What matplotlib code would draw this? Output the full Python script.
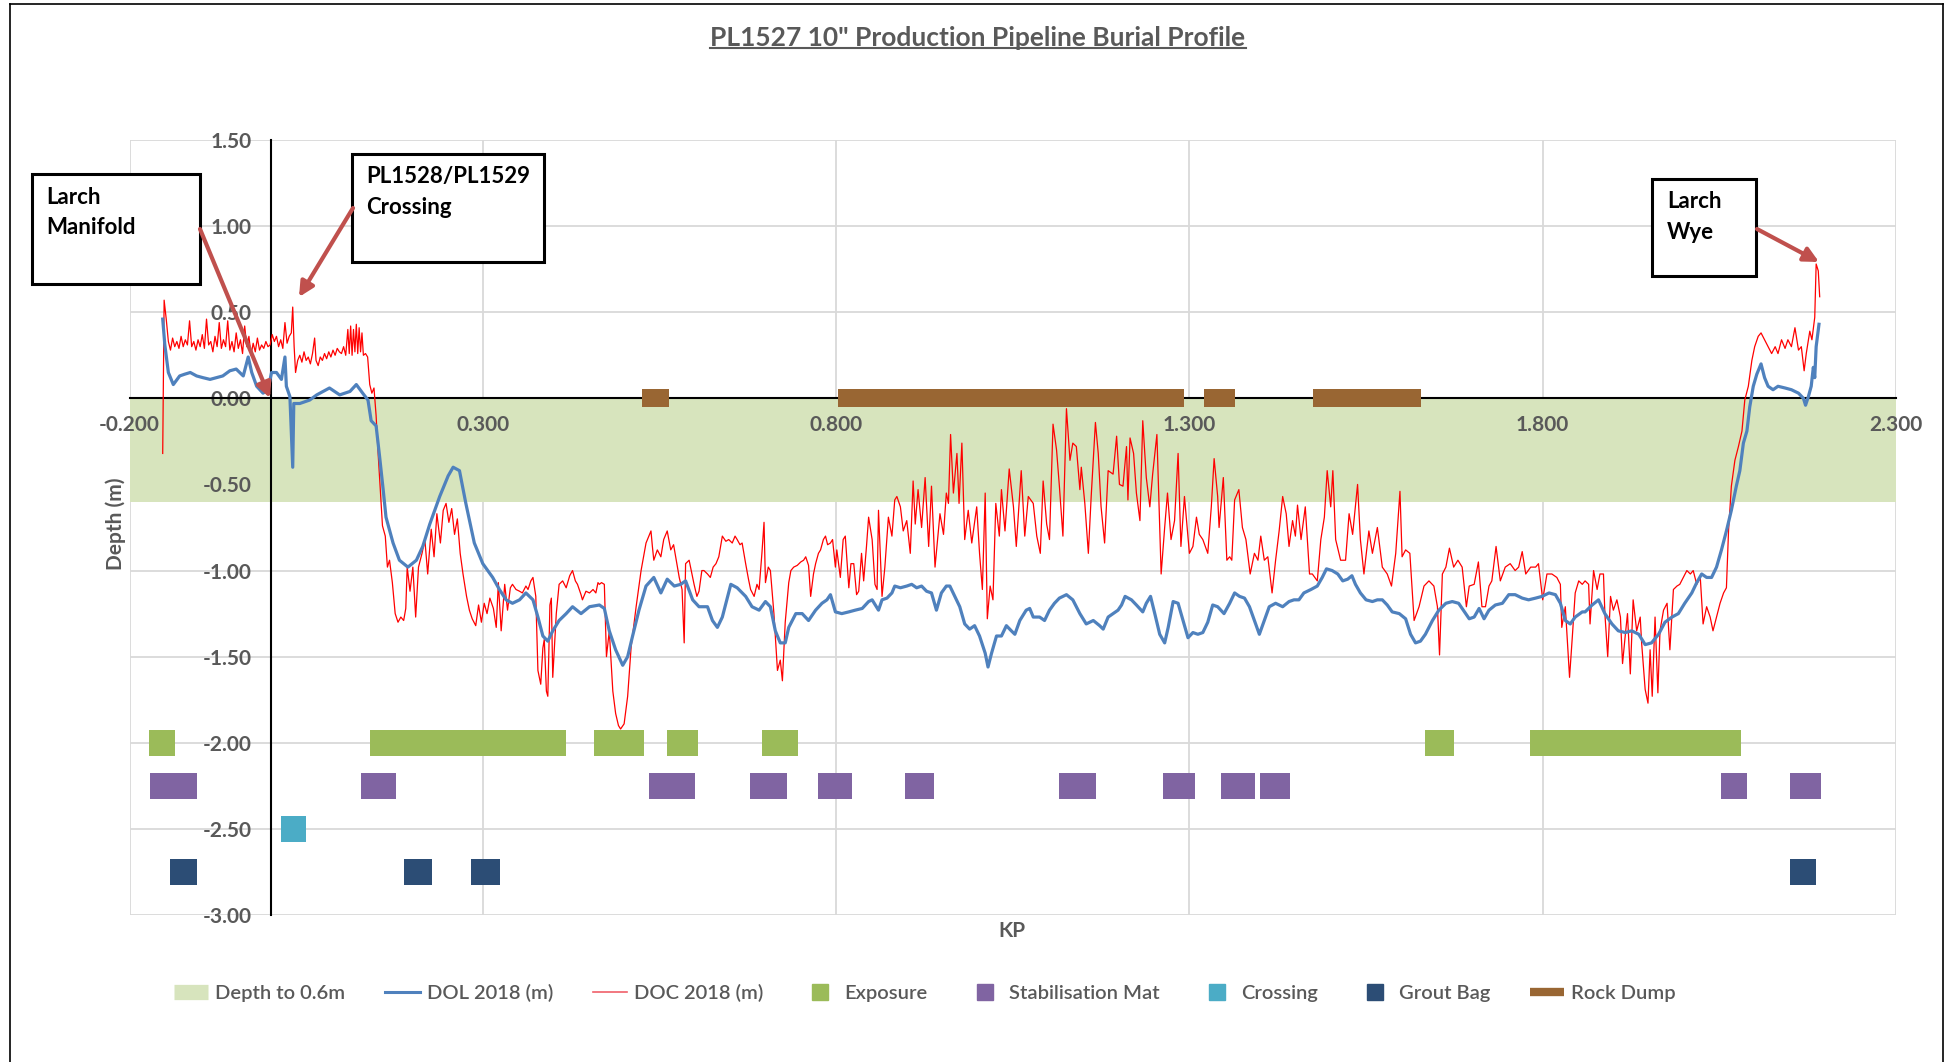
import matplotlib
matplotlib.use("Agg")
import matplotlib.pyplot as plt
from matplotlib.lines import Line2D
from matplotlib.patches import Rectangle, FancyArrowPatch
from matplotlib.ticker import FormatStrFormatter

plt.rcParams['font.family'] = ['Lato', 'DejaVu Sans']

TITLE = 'PL1527 10" Production Pipeline Burial Profile'
X_LABEL = "KP"
Y_LABEL = "Depth (m)"
X_TICKS = [-0.2, 0.3, 0.8, 1.3, 1.8, 2.3]
Y_TICKS = [1.5, 1.0, 0.5, 0.0, -0.5, -1.0, -1.5, -2.0, -2.5, -3.0]

# DOC 2018 (m) - red
doc_kp = [-0.153, -0.151, -0.148, -0.145, -0.142, -0.139, -0.136, -0.133, -0.130, -0.127,
          -0.124, -0.121, -0.118, -0.115, -0.112, -0.109, -0.106, -0.103, -0.100, -0.097,
          -0.094, -0.091, -0.088, -0.085, -0.082, -0.079, -0.076, -0.073, -0.070, -0.067,
          -0.064, -0.061, -0.058, -0.055, -0.052, -0.049, -0.046, -0.043, -0.040, -0.037,
          -0.034, -0.031, -0.028, -0.025, -0.022, -0.019, -0.016, -0.013, -0.010, -0.007,
          -0.004, -0.001, 0.002, 0.005, 0.008, 0.011, 0.014, 0.017, 0.020, 0.023,
          0.026, 0.029, 0.031, 0.033, 0.035, 0.038, 0.041, 0.044, 0.047, 0.050,
          0.053, 0.056, 0.059, 0.062, 0.064, 0.067, 0.070, 0.073, 0.076, 0.079,
          0.082, 0.085, 0.088, 0.091, 0.094, 0.097, 0.100, 0.103, 0.106, 0.109,
          0.111, 0.113, 0.115, 0.117, 0.119, 0.121, 0.123, 0.125, 0.127, 0.129,
          0.131, 0.134, 0.137, 0.140, 0.143, 0.146, 0.149, 0.152, 0.155, 0.158,
          0.162, 0.165, 0.168, 0.172, 0.176, 0.180, 0.184, 0.188, 0.191, 0.193,
          0.197, 0.201, 0.205, 0.209, 0.214, 0.218, 0.222, 0.227, 0.231, 0.235,
          0.240, 0.244, 0.248, 0.252, 0.256, 0.260, 0.264, 0.268, 0.272, 0.277,
          0.281, 0.285, 0.290, 0.294, 0.298, 0.302, 0.306, 0.310, 0.315, 0.319,
          0.322, 0.326, 0.331, 0.335, 0.339, 0.342, 0.347, 0.352, 0.356, 0.361,
          0.364, 0.368, 0.371, 0.375, 0.378, 0.382, 0.385, 0.387, 0.390, 0.392,
          0.395, 0.397, 0.399, 0.402, 0.404, 0.408, 0.413, 0.418, 0.423, 0.427,
          0.431, 0.434, 0.439, 0.441, 0.446, 0.451, 0.456, 0.460, 0.463, 0.465,
          0.468, 0.472, 0.475, 0.479, 0.484, 0.488, 0.492, 0.495, 0.500, 0.505,
          0.510, 0.517, 0.524, 0.531, 0.535, 0.538, 0.540, 0.542, 0.547, 0.552,
          0.556, 0.561, 0.566, 0.570, 0.573, 0.578, 0.582, 0.585, 0.587, 0.592,
          0.596, 0.599, 0.603, 0.606, 0.610, 0.613, 0.618, 0.622, 0.626, 0.630,
          0.634, 0.639, 0.644, 0.648, 0.653, 0.657, 0.660, 0.664, 0.667, 0.672,
          0.676, 0.679, 0.684, 0.688, 0.691, 0.695, 0.698, 0.700, 0.704, 0.707,
          0.712, 0.717, 0.721, 0.724, 0.728, 0.733, 0.736, 0.740, 0.745, 0.750,
          0.754, 0.757, 0.761, 0.764, 0.768, 0.771, 0.775, 0.778, 0.782, 0.785,
          0.788, 0.792, 0.795, 0.799, 0.801, 0.806, 0.810, 0.813, 0.818, 0.821,
          0.825, 0.829, 0.832, 0.836, 0.839, 0.843, 0.846, 0.851, 0.855, 0.858,
          0.860, 0.865, 0.869, 0.874, 0.879, 0.883, 0.886, 0.891, 0.895, 0.900,
          0.905, 0.909, 0.912, 0.916, 0.921, 0.926, 0.931, 0.935, 0.940, 0.947,
          0.952, 0.956, 0.959, 0.962, 0.966, 0.971, 0.974, 0.978, 0.982, 0.987,
          0.992, 0.999, 1.003, 1.007, 1.011, 1.014, 1.018, 1.022, 1.026, 1.031,
          1.034, 1.039, 1.045, 1.051, 1.055, 1.062, 1.067, 1.072, 1.079, 1.084,
          1.089, 1.093, 1.098, 1.102, 1.107, 1.112, 1.116, 1.121, 1.126, 1.131,
          1.135, 1.140, 1.145, 1.147, 1.152, 1.157, 1.161, 1.167, 1.171, 1.175,
          1.180, 1.185, 1.192, 1.197, 1.201, 1.206, 1.211, 1.213, 1.216, 1.221,
          1.225, 1.230, 1.234, 1.239, 1.244, 1.248, 1.254, 1.260, 1.265, 1.269,
          1.274, 1.279, 1.284, 1.288, 1.293, 1.300, 1.305, 1.310, 1.314, 1.319,
          1.326, 1.331, 1.335, 1.340, 1.342, 1.348, 1.353, 1.357, 1.360, 1.364,
          1.370, 1.375, 1.380, 1.386, 1.392, 1.397, 1.401, 1.406, 1.411, 1.417,
          1.422, 1.427, 1.432, 1.437, 1.441, 1.446, 1.450, 1.453, 1.458, 1.464,
          1.470, 1.474, 1.481, 1.486, 1.491, 1.495, 1.500, 1.503, 1.507, 1.514,
          1.521, 1.526, 1.531, 1.538, 1.542, 1.547, 1.554, 1.559, 1.566, 1.573,
          1.580, 1.586, 1.592, 1.598, 1.601, 1.606, 1.612, 1.618, 1.625, 1.632,
          1.639, 1.646, 1.651, 1.654, 1.658, 1.663, 1.668, 1.674, 1.680, 1.686,
          1.692, 1.696, 1.703, 1.709, 1.714, 1.719, 1.724, 1.728, 1.734, 1.740,
          1.747, 1.754, 1.761, 1.766, 1.771, 1.776, 1.783, 1.790, 1.794, 1.800,
          1.806, 1.813, 1.820, 1.825, 1.827, 1.832, 1.838, 1.842, 1.846, 1.851,
          1.856, 1.860, 1.865, 1.867, 1.872, 1.877, 1.881, 1.886, 1.888, 1.892,
          1.896, 1.900, 1.905, 1.910, 1.913, 1.917, 1.920, 1.924, 1.928, 1.933,
          1.938, 1.940, 1.945, 1.949, 1.952, 1.955, 1.959, 1.963, 1.966, 1.971,
          1.976, 1.980, 1.985, 1.990, 1.994, 1.999, 2.004, 2.009, 2.013, 2.018,
          2.023, 2.027, 2.032, 2.037, 2.041, 2.046, 2.051, 2.056, 2.060, 2.063,
          2.067, 2.072, 2.077, 2.082, 2.086, 2.091, 2.096, 2.100, 2.105, 2.109,
          2.114, 2.119, 2.124, 2.129, 2.133, 2.138, 2.143, 2.147, 2.152, 2.157,
          2.162, 2.166, 2.170, 2.173, 2.178, 2.181, 2.185, 2.187, 2.190, 2.192]
doc_depth = [-0.32, 0.57, 0.46, 0.33, 0.28, 0.35, 0.30, 0.33, 0.29, 0.36,
             0.30, 0.34, 0.31, 0.45, 0.30, 0.33, 0.28, 0.34, 0.30, 0.37,
             0.29, 0.46, 0.31, 0.33, 0.27, 0.36, 0.30, 0.44, 0.29, 0.34,
             0.30, 0.45, 0.28, 0.33, 0.27, 0.38, 0.29, 0.34, 0.26, 0.42,
             0.30, 0.36, 0.25, 0.32, 0.27, 0.35, 0.28, 0.31, 0.29, 0.33,
             0.30, 0.31, 0.37, 0.33, 0.36, 0.30, 0.34, 0.29, 0.44, 0.32,
             0.36, 0.38, 0.53, 0.30, 0.15, 0.22, 0.25, 0.21, 0.27, 0.22,
             0.24, 0.20, 0.26, 0.35, 0.22, 0.19, 0.24, 0.22, 0.26, 0.23,
             0.27, 0.24, 0.28, 0.25, 0.29, 0.27, 0.26, 0.30, 0.25, 0.40,
             0.26, 0.42, 0.25, 0.40, 0.27, 0.43, 0.26, 0.41, 0.27, 0.38,
             0.25, 0.26, 0.24, 0.08, 0.03, 0.06, -0.10, -0.33, -0.53, -0.74,
             -0.80, -0.98, -0.94, -1.07, -1.25, -1.30, -1.27, -1.29, -1.22, -0.98,
             -1.12, -0.98, -1.27, -0.98, -0.90, -0.82, -1.02, -0.76, -0.92, -0.67,
             -0.84, -0.65, -0.61, -0.72, -0.64, -0.79, -0.70, -0.90, -1.02, -1.15,
             -1.23, -1.28, -1.32, -1.20, -1.30, -1.19, -1.25, -1.16, -1.22, -1.33,
             -1.07, -1.35, -1.08, -1.23, -1.10, -1.08, -1.11, -1.12, -1.13, -1.09,
             -1.11, -1.06, -1.04, -1.15, -1.58, -1.66, -1.45, -1.40, -1.70, -1.73,
             -1.20, -1.16, -1.62, -1.40, -1.25, -1.08, -1.06, -1.10, -1.03, -1.00,
             -1.06, -1.08, -1.14, -1.17, -1.12, -1.13, -1.11, -1.13, -1.07, -1.08,
             -1.07, -1.08, -1.50, -1.35, -1.70, -1.83, -1.90, -1.92, -1.89, -1.73,
             -1.44, -1.21, -1.00, -0.84, -0.80, -0.77, -0.86, -0.94, -0.88, -0.92,
             -0.82, -0.77, -0.88, -0.85, -0.92, -1.04, -1.11, -1.42, -0.96, -0.94,
             -1.02, -1.08, -1.15, -1.12, -1.00, -1.00, -1.02, -1.04, -0.98, -0.96,
             -0.92, -0.80, -0.83, -0.82, -0.84, -0.80, -0.82, -0.85, -0.84, -0.96,
             -1.05, -1.11, -1.15, -1.08, -1.11, -0.90, -0.72, -1.07, -0.98, -1.00,
             -1.25, -1.58, -1.52, -1.64, -1.30, -1.07, -1.00, -0.98, -0.97, -0.95,
             -0.94, -0.92, -0.97, -1.15, -1.02, -0.96, -0.90, -0.88, -0.82, -0.80,
             -0.85, -0.84, -0.82, -0.98, -0.88, -1.04, -0.82, -0.80, -1.10, -0.96,
             -0.96, -1.14, -1.12, -0.90, -1.06, -0.86, -0.69, -0.82, -1.08, -1.11,
             -0.65, -1.15, -0.98, -0.69, -0.80, -0.59, -0.57, -0.63, -0.77, -0.71,
             -0.90, -0.48, -0.73, -0.53, -0.75, -0.46, -0.86, -0.51, -0.98, -0.67,
             -0.79, -0.55, -0.61, -0.21, -0.55, -0.32, -0.61, -0.26, -0.82, -0.65,
             -0.84, -0.63, -0.90, -1.11, -0.55, -1.28, -1.09, -1.17, -0.61, -0.80,
             -0.53, -0.77, -0.41, -0.63, -0.86, -0.42, -0.80, -0.57, -0.61, -0.80,
             -0.90, -0.48, -0.73, -0.82, -0.15, -0.30, -0.51, -0.80, -0.06, -0.36,
             -0.26, -0.28, -0.53, -0.40, -0.61, -0.90, -0.57, -0.14, -0.32, -0.63,
             -0.84, -0.42, -0.44, -0.22, -0.50, -0.51, -0.28, -0.59, -0.23, -0.32,
             -0.55, -0.71, -0.13, -0.46, -0.63, -0.44, -0.21, -1.02, -0.75, -0.55,
             -0.82, -0.71, -0.32, -0.86, -0.57, -0.90, -0.86, -0.69, -0.79, -0.82,
             -0.90, -0.63, -0.35, -0.57, -0.75, -0.46, -0.94, -0.92, -0.94, -0.59,
             -0.53, -0.75, -0.82, -1.02, -0.90, -0.94, -0.80, -0.94, -0.92, -1.13,
             -0.94, -0.77, -0.57, -0.67, -0.86, -0.71, -0.80, -0.62, -0.82, -0.63,
             -1.02, -1.02, -1.06, -0.82, -0.69, -0.42, -0.63, -0.42, -0.82, -0.94,
             -0.94, -0.67, -0.79, -0.50, -0.82, -1.02, -0.77, -0.90, -0.75, -0.98,
             -1.02, -1.09, -0.90, -0.54, -0.92, -0.88, -0.90, -1.29, -1.21, -1.09,
             -1.06, -1.09, -1.21, -1.49, -1.02, -0.98, -0.87, -0.98, -0.94, -0.98,
             -1.21, -1.09, -1.08, -0.95, -1.21, -1.21, -1.09, -1.06, -0.86, -1.06,
             -0.98, -0.96, -1.00, -0.98, -0.89, -1.02, -0.98, -0.98, -0.96, -1.17,
             -1.02, -1.02, -1.04, -1.08, -1.33, -1.21, -1.62, -1.38, -1.13, -1.06,
             -1.08, -1.06, -1.08, -1.31, -1.00, -1.11, -1.02, -1.02, -1.25, -1.50,
             -1.15, -1.23, -1.17, -1.27, -1.54, -1.37, -1.25, -1.60, -1.17, -1.35,
             -1.27, -1.42, -1.69, -1.77, -1.46, -1.73, -1.27, -1.71, -1.35, -1.23,
             -1.19, -1.46, -1.11, -1.09, -1.08, -1.04, -1.00, -1.02, -1.00, -1.08,
             -1.04, -1.31, -1.21, -1.27, -1.35, -1.27, -1.19, -1.13, -1.10, -0.77,
             -0.51, -0.36, -0.28, -0.19, -0.01, 0.07, 0.22, 0.30, 0.36, 0.38,
             0.34, 0.30, 0.26, 0.30, 0.26, 0.34, 0.29, 0.34, 0.30, 0.41,
             0.28, 0.30, 0.16, 0.26, 0.39, 0.34, 0.47, 0.78, 0.74, 0.59]

# DOL 2018 (m) - blue
dol_kp = [-0.153, -0.150, -0.145, -0.138, -0.129, -0.122, -0.114, -0.105, -0.096, -0.086,
          -0.077, -0.068, -0.058, -0.049, -0.039, -0.032, -0.027, -0.020, -0.011, -0.004,
          0.001, 0.008, 0.015, 0.020, 0.022, 0.027, 0.031, 0.0325, 0.041, 0.055,
          0.065, 0.083, 0.0975, 0.112, 0.121, 0.130, 0.1375, 0.142, 0.149, 0.154,
          0.159, 0.163, 0.173, 0.182, 0.194, 0.206, 0.215, 0.225, 0.239, 0.251,
          0.258, 0.267, 0.276, 0.288, 0.300, 0.314, 0.3235, 0.333, 0.342, 0.352,
          0.361, 0.371, 0.378, 0.385, 0.392, 0.399, 0.408, 0.418, 0.427, 0.439,
          0.451, 0.465, 0.472, 0.479, 0.488, 0.498, 0.505, 0.512, 0.521, 0.531,
          0.542, 0.552, 0.561, 0.571, 0.580, 0.587, 0.597, 0.606, 0.618, 0.625,
          0.632, 0.639, 0.651, 0.660, 0.672, 0.681, 0.691, 0.700, 0.707, 0.714,
          0.721, 0.728, 0.733, 0.743, 0.752, 0.761, 0.771, 0.780, 0.787, 0.792,
          0.799, 0.808, 0.818, 0.827, 0.837, 0.846, 0.851, 0.860, 0.865, 0.872,
          0.879, 0.883, 0.891, 0.900, 0.907, 0.914, 0.921, 0.928, 0.935, 0.942,
          0.949, 0.956, 0.961, 0.968, 0.975, 0.982, 0.989, 0.996, 1.003, 1.011,
          1.015, 1.020, 1.027, 1.034, 1.041, 1.048, 1.053, 1.060, 1.069, 1.074,
          1.079, 1.088, 1.095, 1.102, 1.109, 1.116, 1.126, 1.135, 1.145, 1.154,
          1.164, 1.173, 1.178, 1.185, 1.192, 1.199, 1.204, 1.209, 1.218, 1.225,
          1.234, 1.239, 1.245, 1.251, 1.258, 1.265, 1.270, 1.277, 1.284, 1.291,
          1.298, 1.305, 1.312, 1.319, 1.326, 1.333, 1.340, 1.349, 1.357, 1.364,
          1.371, 1.378, 1.385, 1.392, 1.399, 1.406, 1.413, 1.422, 1.432, 1.441,
          1.448, 1.455, 1.462, 1.472, 1.481, 1.488, 1.494, 1.502, 1.510, 1.517,
          1.524, 1.530, 1.535, 1.542, 1.550, 1.559, 1.566, 1.573, 1.580, 1.587,
          1.597, 1.606, 1.613, 1.620, 1.627, 1.634, 1.644, 1.653, 1.663, 1.672,
          1.681, 1.691, 1.696, 1.703, 1.710, 1.717, 1.724, 1.733, 1.743, 1.752,
          1.761, 1.771, 1.780, 1.790, 1.799, 1.809, 1.818, 1.825, 1.832, 1.839,
          1.846, 1.856, 1.860, 1.870, 1.879, 1.888, 1.898, 1.907, 1.917, 1.926,
          1.936, 1.945, 1.954, 1.964, 1.973, 1.983, 1.992, 2.001, 2.011, 2.018,
          2.025, 2.032, 2.039, 2.046, 2.053, 2.060, 2.067, 2.074, 2.079, 2.084,
          2.089, 2.093, 2.098, 2.103, 2.109, 2.114, 2.119, 2.126, 2.133, 2.143,
          2.152, 2.162, 2.169, 2.172, 2.176, 2.180, 2.183, 2.185, 2.187, 2.191]
dol_depth = [0.46, 0.31, 0.15, 0.08, 0.13, 0.14, 0.15, 0.13, 0.12, 0.11,
             0.12, 0.13, 0.16, 0.17, 0.13, 0.24, 0.15, 0.07, 0.03, 0.05,
             0.15, 0.15, 0.11, 0.24, 0.07, 0.01, -0.40, -0.03, -0.03, -0.01,
             0.02, 0.06, 0.02, 0.04, 0.08, 0.03, -0.01, -0.13, -0.16, -0.34,
             -0.53, -0.69, -0.84, -0.94, -0.98, -0.94, -0.86, -0.73, -0.57, -0.45,
             -0.40, -0.42, -0.61, -0.84, -0.96, -1.04, -1.11, -1.17, -1.19, -1.17,
             -1.13, -1.17, -1.27, -1.38, -1.41, -1.35, -1.29, -1.25, -1.21, -1.25,
             -1.21, -1.20, -1.22, -1.35, -1.46, -1.55, -1.50, -1.38, -1.23, -1.09,
             -1.04, -1.13, -1.05, -1.09, -1.08, -1.06, -1.17, -1.21, -1.21, -1.29,
             -1.33, -1.27, -1.08, -1.10, -1.15, -1.21, -1.23, -1.18, -1.21, -1.35,
             -1.42, -1.42, -1.33, -1.25, -1.25, -1.29, -1.23, -1.19, -1.17, -1.14,
             -1.24, -1.25, -1.24, -1.23, -1.22, -1.18, -1.17, -1.23, -1.17, -1.16,
             -1.13, -1.09, -1.10, -1.09, -1.08, -1.10, -1.09, -1.12, -1.13, -1.23,
             -1.13, -1.09, -1.09, -1.15, -1.21, -1.31, -1.34, -1.32, -1.38, -1.48,
             -1.56, -1.48, -1.38, -1.38, -1.32, -1.35, -1.37, -1.29, -1.23, -1.22,
             -1.27, -1.27, -1.29, -1.23, -1.19, -1.16, -1.14, -1.17, -1.25, -1.31,
             -1.29, -1.32, -1.34, -1.27, -1.25, -1.23, -1.20, -1.15, -1.17, -1.20,
             -1.24, -1.19, -1.15, -1.25, -1.37, -1.42, -1.33, -1.18, -1.19, -1.29,
             -1.39, -1.36, -1.37, -1.36, -1.30, -1.20, -1.21, -1.25, -1.19, -1.13,
             -1.15, -1.16, -1.21, -1.29, -1.37, -1.29, -1.21, -1.19, -1.21, -1.18,
             -1.17, -1.17, -1.13, -1.11, -1.09, -1.04, -0.99, -1.00, -1.02, -1.06,
             -1.05, -1.03, -1.08, -1.13, -1.17, -1.18, -1.17, -1.17, -1.20, -1.24,
             -1.25, -1.28, -1.37, -1.42, -1.41, -1.37, -1.29, -1.23, -1.19, -1.18,
             -1.19, -1.25, -1.28, -1.27, -1.22, -1.28, -1.23, -1.20, -1.19, -1.14,
             -1.14, -1.16, -1.17, -1.16, -1.15, -1.13, -1.14, -1.19, -1.29, -1.31,
             -1.27, -1.24, -1.24, -1.20, -1.17, -1.25, -1.31, -1.35, -1.36, -1.35,
             -1.37, -1.43, -1.42, -1.37, -1.30, -1.27, -1.25, -1.19, -1.13, -1.07,
             -1.02, -1.04, -1.04, -0.98, -0.88, -0.77, -0.65, -0.51, -0.42, -0.26,
             -0.19, -0.05, 0.07, 0.14, 0.20, 0.12, 0.07, 0.05, 0.07, 0.06,
             0.05, 0.03, 0.00, -0.04, 0.01, 0.07, 0.18, 0.12, 0.30, 0.43]

# Event features: start / end KP
exposure_start = [-0.172, 0.141, 0.457, 0.561, 0.695, 1.634, 1.782]
exposure_end = [-0.135, 0.418, 0.528, 0.605, 0.746, 1.674, 2.081]
stab_mat_start = [-0.171, 0.127, 0.535, 0.678, 0.775, 0.897, 1.115, 1.262, 1.345, 1.400, 2.053, 2.150]
stab_mat_end = [-0.105, 0.177, 0.600, 0.731, 0.823, 0.939, 1.168, 1.308, 1.393, 1.442, 2.089, 2.194]
crossing_start = [0.014]
crossing_end = [0.0495]
grout_start = [-0.142, 0.189, 0.284, 2.150]
grout_end = [-0.105, 0.228, 0.324, 2.187]
rock_start = [0.526, 0.803, 1.321, 1.475]
rock_end = [0.564, 1.292, 1.364, 1.628]

# Plotting levels of the feature rows (m)
EXPOSURE_LEVEL = -2.0
STAB_LEVEL = -2.25
CROSSING_LEVEL = -2.5
GROUT_LEVEL = -2.75
ROCK_LEVEL = 0.0
BAND_DEPTH = -0.6

C_BAND = '#D7E4BD'
C_DOL = '#4F81BD'
C_DOC = '#FF0000'
C_EXP = '#9BBB59'
C_STAB = '#8064A2'
C_CROSS = '#4BACC6'
C_GROUT = '#2C4D75'
C_ROCK = '#996633'
C_ARROW = '#C0504D'
C_TEXT = '#595959'
C_GRID = '#D9D9D9'

W, H = 1951, 1062
fig = plt.figure(figsize=(W / 100, H / 100), dpi=100)
fig.patch.set_facecolor('white')
ax = fig.add_axes([129.5 / W, 1 - 915 / H, (1896 - 129.5) / W, (915 - 140) / H])

ax.set_xlim(-0.2, 2.3)
ax.set_ylim(-3.0, 1.5)
ax.set_xticks(X_TICKS)
ax.set_yticks(Y_TICKS)
ax.xaxis.set_major_formatter(FormatStrFormatter('%.3f'))
ax.yaxis.set_major_formatter(FormatStrFormatter('%.2f'))

# gridlines (below band)
for xv in X_TICKS:
    ax.axvline(xv, color=C_GRID, linewidth=1.3, zorder=0)
for yv in Y_TICKS:
    ax.axhline(yv, color=C_GRID, linewidth=1.3, zorder=0)

for s in ['top', 'right']:
    ax.spines[s].set_visible(False)
ax.spines['left'].set_position(('data', 0.0))
ax.spines['bottom'].set_position(('data', 0.0))
for s in ['left', 'bottom']:
    ax.spines[s].set_color('black')
    ax.spines[s].set_linewidth(1.5)
    ax.spines[s].set_zorder(2.6)
ax.tick_params(axis='both', length=0, labelsize=15, labelcolor=C_TEXT)
ax.tick_params(axis='y', pad=14)
ax.tick_params(axis='x', pad=12)
for lab in ax.get_xticklabels() + ax.get_yticklabels():
    lab.set_fontweight('bold')

# shaded band
ax.axhspan(BAND_DEPTH, 0.0, color=C_BAND, zorder=1, linewidth=0)

def bars(starts, ends, level, height, color):
    ax.broken_barh([(s, e - s) for s, e in zip(starts, ends)],
                   (level - height / 2, height), facecolors=color, zorder=3, linewidth=0)

bars(exposure_start, exposure_end, EXPOSURE_LEVEL, 0.15, C_EXP)
bars(stab_mat_start, stab_mat_end, STAB_LEVEL, 0.15, C_STAB)
bars(crossing_start, crossing_end, CROSSING_LEVEL, 0.15, C_CROSS)
bars(grout_start, grout_end, GROUT_LEVEL, 0.15, C_GROUT)
bars(rock_start, rock_end, ROCK_LEVEL, 0.105, C_ROCK)

ax.plot(doc_kp, doc_depth, color=C_DOC, linewidth=0.9, zorder=4)
ax.plot(dol_kp, dol_depth, color=C_DOL, linewidth=2.3, zorder=5)

# axis titles
fig.text(116 / W, 1 - 524 / H, Y_LABEL, rotation=90, ha='center', va='center',
         fontsize=15, fontweight='bold', color=C_TEXT)
fig.text(1012 / W, 1 - 931 / H, X_LABEL, ha='center', va='center',
         fontsize=15, fontweight='bold', color=C_TEXT)

# title with underline
t = fig.text(978 / W, 1 - 38 / H, TITLE, ha='center', va='center',
             fontsize=19, fontweight='bold', color=C_TEXT)
fig.canvas.draw()
bb = t.get_window_extent()
fig.add_artist(Line2D([bb.x0 / W, bb.x1 / W], [(bb.y0 + 2) / H, (bb.y0 + 2) / H],
                      color=C_TEXT, linewidth=1.5, transform=fig.transFigure))

# annotation boxes (pixel coords from top-left)
def box(x0, y0, x1, y1, lines, tx, ty0, dy):
    fig.add_artist(Rectangle((x0 / W, 1 - y1 / H), (x1 - x0) / W, (y1 - y0) / H,
                             transform=fig.transFigure, facecolor='white',
                             edgecolor='black', linewidth=2.2, zorder=10))
    for i, ln in enumerate(lines):
        fig.text(tx / W, 1 - (ty0 + i * dy) / H, ln, ha='left', va='center',
                 fontsize=16, fontweight='bold', color='black', zorder=11)

box(32, 174, 200, 284, ['Larch', 'Manifold'], 46, 197, 31)
box(352, 154, 544, 262, ['PL1528/PL1529', 'Crossing'], 366, 177, 31)
box(1652, 179, 1756, 276, ['Larch', 'Wye'], 1667, 202, 30)

def arrow(x0, y0, x1, y1):
    fig.add_artist(FancyArrowPatch(
        (x0 / W, 1 - y0 / H), (x1 / W, 1 - y1 / H), transform=fig.transFigure,
        arrowstyle='-|>', mutation_scale=22, linewidth=3.0, color=C_ARROW,
        shrinkA=0, shrinkB=0, zorder=12))

arrow(200, 229, 270, 398)
arrow(353, 208, 299, 297)
arrow(1757, 229, 1819, 262)

# legend
handles = [
    Line2D([], [], color=C_BAND, linewidth=11, solid_capstyle='butt'),
    Line2D([], [], color=C_DOL, linewidth=2.2),
    Line2D([], [], color='#F0606A', linewidth=1.2),
    Line2D([], [], color=C_EXP, marker='s', linestyle='none', markersize=12),
    Line2D([], [], color=C_STAB, marker='s', linestyle='none', markersize=12),
    Line2D([], [], color=C_CROSS, marker='s', linestyle='none', markersize=12),
    Line2D([], [], color=C_GROUT, marker='s', linestyle='none', markersize=12),
    Line2D([], [], color=C_ROCK, linewidth=6, solid_capstyle='butt'),
]
labels = ['Depth to 0.6m', 'DOL 2018 (m)', 'DOC 2018 (m)', 'Exposure',
          'Stabilisation Mat', 'Crossing', 'Grout Bag', 'Rock Dump']
leg = fig.legend(handles, labels, loc='center', bbox_to_anchor=(925 / W, 1 - 993 / H),
                 ncol=8, frameon=False, fontsize=14.5, handlelength=1.7,
                 handletextpad=0.35, columnspacing=1.98)
for txt in leg.get_texts():
    txt.set_color(C_TEXT)
    txt.set_fontweight('semibold')

# outer chart border
for xs, ys in [([10 / W, 10 / W], [0, 1 - 4 / H]), ([10 / W, 1943 / W], [1 - 4 / H, 1 - 4 / H]),
               ([1943 / W, 1943 / W], [0, 1 - 4 / H])]:
    fig.add_artist(Line2D(xs, ys, color='black', linewidth=1.2, transform=fig.transFigure))

fig.savefig('out.png', dpi=100, facecolor='white')
